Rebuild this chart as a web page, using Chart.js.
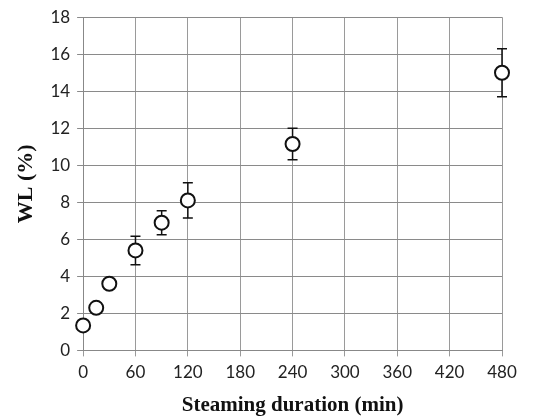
<!DOCTYPE html>
<html><head><meta charset="utf-8">
<script src="https://cdn.jsdelivr.net/npm/chart.js@4/dist/chart.umd.min.js"></script>
<style>html,body{margin:0;padding:0;background:#fff}#wrap{width:549px;height:420px}</style>
</head><body><div id="wrap"><canvas id="c" width="549" height="420"></canvas></div>
<script>
const durations = [0, 15, 30, 60, 90, 120, 240, 480];
const wl = [1.35, 2.3, 3.6, 5.4, 6.9, 8.1, 11.15, 15.0];
const wlErr = [0, 0, 0, 0.77, 0.65, 0.95, 0.85, 1.3];
const xTicks = [0, 60, 120, 180, 240, 300, 360, 420, 480];
const yTicks = [0, 2, 4, 6, 8, 10, 12, 14, 16, 18];

const errorBars = {
  id: 'errorBars',
  beforeDatasetsDraw(chart) {
    const ctx = chart.ctx, xs = chart.scales.x, ys = chart.scales.y;
    ctx.save();
    ctx.strokeStyle = '#111';
    ctx.lineWidth = 1.5;
    durations.forEach((d, i) => {
      const e = wlErr[i];
      if (!e) return;
      const px = xs.getPixelForValue(d);
      const top = ys.getPixelForValue(wl[i] + e);
      const bot = ys.getPixelForValue(wl[i] - e);
      ctx.beginPath();
      ctx.moveTo(px, top); ctx.lineTo(px, bot);
      ctx.moveTo(px - 5, top); ctx.lineTo(px + 5, top);
      ctx.moveTo(px - 5, bot); ctx.lineTo(px + 5, bot);
      ctx.stroke();
    });
    ctx.restore();
  }
};

new Chart(document.getElementById('c'), {
  type: 'scatter',
  data: {
    datasets: [{
      data: durations.map((d, i) => ({x: d, y: wl[i]})),
      pointRadius: 7,
      pointHoverRadius: 7,
      pointBackgroundColor: '#fff',
      pointBorderColor: '#111',
      pointBorderWidth: 2,
      clip: false
    }]
  },
  options: {
    responsive: false,
    animation: false,
    layout: {padding: {top: 8, right: 47, left: 13, bottom: 2}},
    plugins: {legend: {display: false}, tooltip: {enabled: false}},
    scales: {
      x: {
        type: 'linear', min: 0, max: 480,
        afterBuildTicks: s => { s.ticks = xTicks.map(v => ({value: v})); },
        grid: {color: '#9a9a9a', lineWidth: 1, tickLength: 6},
        border: {color: '#888'},
        ticks: {color: '#222', font: {family: 'Lato', size: 17}, padding: 6, maxRotation: 0},
        title: {display: true, text: 'Steaming duration (min)', color: '#111',
          font: {family: 'Liberation Serif', size: 21, weight: 'bold'}, padding: {top: 4, bottom: 0}}
      },
      y: {
        type: 'linear', min: 0, max: 18,
        afterBuildTicks: s => { s.ticks = yTicks.map(v => ({value: v})); },
        grid: {color: '#8a8a8a', lineWidth: 1, tickLength: 6},
        border: {color: '#888'},
        ticks: {color: '#222', font: {family: 'Lato', size: 17}, padding: 7},
        title: {display: true, text: 'WL (%)', color: '#111',
          font: {family: 'Liberation Serif', size: 22, weight: 'bold'}, padding: {top: 0, bottom: 4}}
      }
    }
  },
  plugins: [errorBars]
});
</script></body></html>
